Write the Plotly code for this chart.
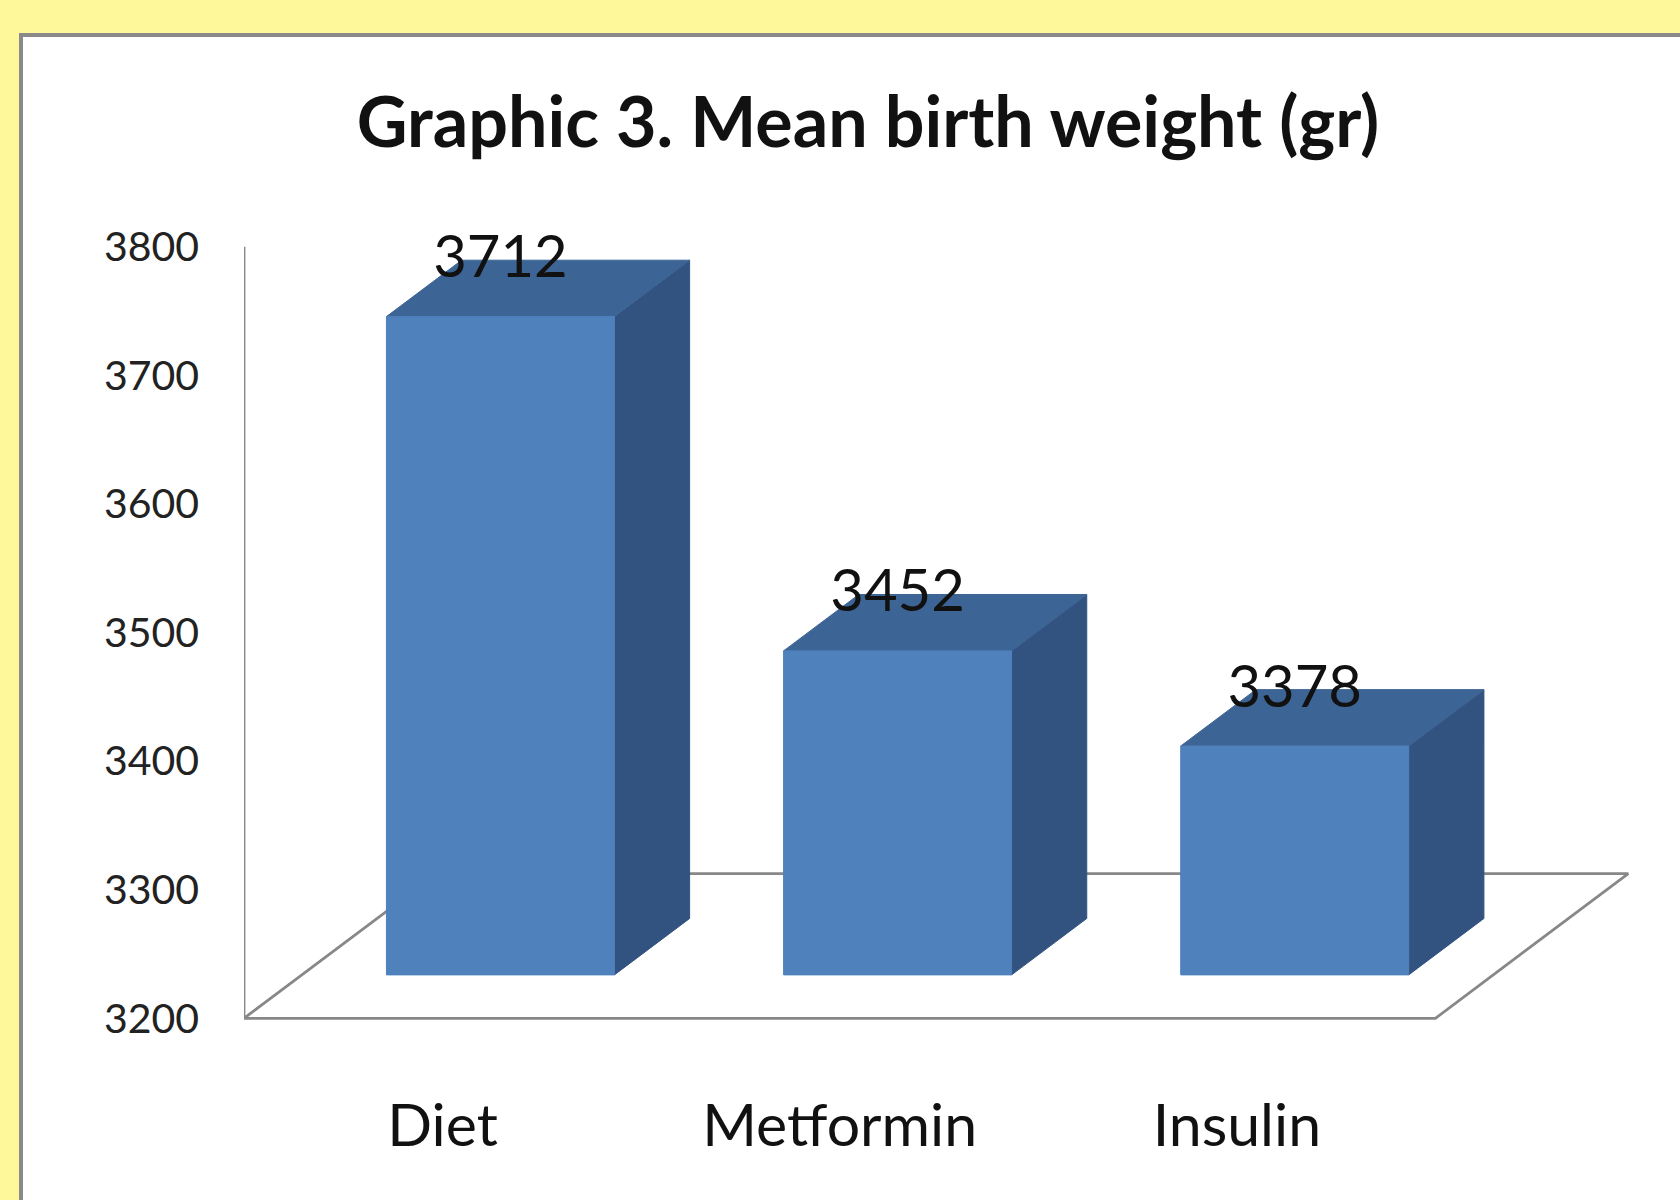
import plotly.graph_objects as go

# ---- data ----
categories = ["Diet", "Metformin", "Insulin"]
values = [3712, 3452, 3378]
y_ticks = [3200, 3300, 3400, 3500, 3600, 3700, 3800]
title_text = "Graphic 3. Mean birth weight (gr)"

# ---- pseudo-3D geometry (in axis units) ----
BASE = 3200
KX, KY = 0.4856, 112.5      # screen shift per unit of depth (category units, value units)
HW = 0.287                  # half bar width (category units)
ZF, ZB = 0.30, 0.69         # bar front / back depth
LABEL_LIFT = 42

FRONT = "#4F81BD"
TOP = "#3C6494"
SIDE = "#325380"
EDGE = "#888888"
FONT = "Lato"

W, H = 1680, 1200
L, R, T, B = 244, 46, 234, 156
PW, PH = W - L - R, H - T - B


def proj(x, v, z):
    return x + z * KX, v + z * KY


def poly(pts, color, close=True, width=0, fill=True):
    pp = [proj(*p) for p in pts]
    if close:
        pp.append(pp[0])
    xs, ys = zip(*pp)
    return go.Scatter(
        x=list(xs), y=list(ys), mode="lines",
        fill="toself" if fill else None,
        fillcolor=color if fill else None,
        line=dict(color=color, width=width if width else 1),
        hoverinfo="skip", showlegend=False,
    )


fig = go.Figure()

n = len(categories)
xl, xr = -0.5, n - 0.5
# floor
fig.add_trace(poly([(xl, BASE, 0), (xr, BASE, 0), (xr, BASE, 1), (xl, BASE, 1)],
                   EDGE, close=True, width=2.8, fill=False))
# vertical axis line
fig.add_trace(poly([(xl, y_ticks[0], 0), (xl, y_ticks[-1], 0)], EDGE, close=False, width=2.8, fill=False))

for i, v in enumerate(values):
    side = [(i + HW, BASE, ZF), (i + HW, BASE, ZB), (i + HW, v, ZB), (i + HW, v, ZF)]
    top = [(i - HW, v, ZF), (i + HW, v, ZF), (i + HW, v, ZB), (i - HW, v, ZB)]
    front = [(i - HW, BASE, ZF), (i + HW, BASE, ZF), (i + HW, v, ZF), (i - HW, v, ZF)]
    fig.add_trace(poly(side, SIDE))
    fig.add_trace(poly(top, TOP))
    fig.add_trace(poly(front, FRONT))

lx = [proj(i, v, ZF)[0] for i, v in enumerate(values)]
ly = [proj(i, v, ZF)[1] + LABEL_LIFT for i, v in enumerate(values)]
fig.add_trace(go.Scatter(
    x=lx, y=ly, mode="text", text=[str(v) for v in values],
    textposition="middle center",
    textfont=dict(family=FONT, size=58, color="#111111"),
    hoverinfo="skip", showlegend=False, cliponaxis=False,
))

# panel
fig.add_shape(type="rect", xref="paper", yref="paper",
              x0=(21 - L) / PW, x1=(1720 - L) / PW,
              y0=(H - B - 1240) / PH, y1=(H - B - 35) / PH,
              line=dict(color="#8A8A8A", width=4), fillcolor="white", layer="below")

fig.update_layout(
    width=W, height=H,
    margin=dict(l=L, r=R, t=T, b=B, autoexpand=False),
    paper_bgcolor="#FFF89A", plot_bgcolor="rgba(0,0,0,0)",
    title=dict(text=title_text, x=868 / W, xanchor="center", y=1 - 122 / H, yanchor="middle",
               font=dict(family=FONT, size=70, color="#111111", weight=700)),
    xaxis=dict(range=[-0.5, 3.0], tickvals=list(range(n)), ticktext=categories,
               showgrid=False, zeroline=False, showline=False, ticks="",
               tickfont=dict(family=FONT, size=59, color="#111111"), ticklabelstandoff=42),
    yaxis=dict(range=[3180, 3810], tickvals=y_ticks,
               showgrid=False, zeroline=False, showline=False, ticks="",
               tickfont=dict(family=FONT, size=41, color="#222222"), ticklabelstandoff=44),
)

fig.write_html("out.html", config={"displayModeBar": False},
               post_script="document.body.style.margin='0';document.body.style.background='#FFF89A';")
